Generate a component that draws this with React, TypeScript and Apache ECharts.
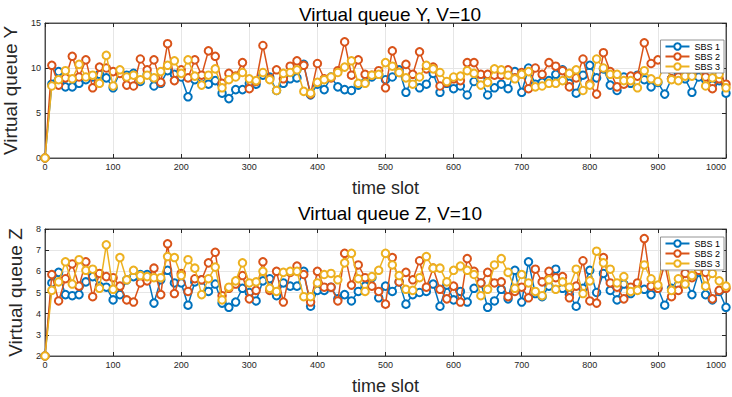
import React, { useEffect, useRef } from "react";
import * as echarts from "echarts";

const TIME_SLOTS: number[] = Array.from({ length: 101 }, (_, i) => i * 10);

const Y_SBS1 = [0, 8.2, 9.6, 7.9, 7.9, 8.3, 8.7, 9.0, 9.3, 8.9, 7.8, 9.5, 9.2, 9.4, 8.5, 9.3, 8.0, 8.3, 9.7, 9.3, 9.0, 6.8, 8.7, 8.9, 8.2, 8.6, 7.2, 6.6, 7.6, 7.6, 8.3, 8.2, 9.2, 9.0, 7.5, 8.3, 8.8, 8.9, 10.4, 7.0, 8.2, 7.6, 9.0, 7.9, 7.6, 7.5, 8.1, 8.4, 9.0, 9.3, 8.7, 9.0, 9.8, 7.3, 8.9, 7.8, 8.2, 9.4, 7.3, 8.3, 7.7, 8.0, 7.0, 8.5, 8.7, 7.0, 7.8, 8.2, 7.7, 9.6, 7.3, 10.0, 8.2, 8.4, 8.6, 9.3, 9.8, 8.3, 7.2, 9.2, 10.3, 8.9, 9.9, 8.1, 7.5, 9.0, 8.3, 9.2, 8.7, 7.9, 8.4, 7.1, 8.8, 9.5, 8.8, 7.3, 9.0, 8.7, 8.1, 8.6, 7.2];
const Y_SBS2 = [0, 10.3, 8.1, 8.9, 11.3, 9.0, 10.9, 7.8, 10.1, 10.0, 9.6, 9.4, 8.1, 8.0, 11.0, 9.8, 10.9, 8.4, 12.7, 8.6, 9.8, 8.9, 10.9, 9.2, 11.9, 11.3, 8.3, 9.4, 9.1, 10.6, 7.7, 8.5, 12.5, 8.8, 9.8, 8.8, 10.2, 10.8, 10.3, 7.1, 10.5, 8.8, 8.9, 9.7, 12.9, 9.2, 10.9, 9.3, 9.2, 9.7, 7.8, 11.9, 9.5, 10.4, 9.3, 11.8, 9.9, 10.1, 8.0, 8.4, 8.8, 8.6, 10.6, 10.6, 9.3, 9.3, 9.2, 9.2, 9.8, 8.9, 9.5, 7.7, 10.0, 9.3, 10.6, 10.2, 9.7, 7.9, 8.9, 11.0, 8.2, 7.1, 11.7, 9.6, 7.9, 8.2, 9.1, 9.1, 12.8, 10.5, 10.9, 10.9, 8.8, 9.0, 9.2, 9.4, 10.0, 9.0, 7.7, 8.8, 8.2];
const Y_SBS3 = [0, 8.0, 8.7, 9.7, 8.8, 10.4, 9.0, 9.2, 8.3, 11.4, 8.0, 9.8, 9.0, 9.2, 8.7, 9.2, 8.9, 9.6, 10.3, 10.8, 9.4, 10.9, 9.1, 8.1, 9.2, 9.9, 7.8, 8.7, 9.0, 9.5, 8.8, 8.6, 9.5, 8.7, 7.5, 9.4, 9.5, 9.8, 7.4, 7.2, 8.4, 8.7, 9.0, 9.5, 10.1, 10.8, 8.3, 8.3, 9.2, 9.3, 10.6, 10.2, 9.5, 8.9, 8.2, 9.0, 10.3, 9.9, 9.5, 8.5, 9.0, 9.1, 9.7, 9.4, 8.1, 8.4, 9.9, 9.8, 9.2, 8.8, 9.3, 9.6, 7.9, 8.0, 8.3, 8.3, 8.6, 9.4, 9.8, 7.5, 8.1, 11.0, 10.0, 9.3, 9.3, 8.6, 8.6, 7.8, 9.7, 8.8, 8.5, 10.5, 8.7, 8.6, 9.1, 9.1, 10.0, 8.0, 8.9, 9.3, 7.8];

const Z_SBS1 = [2, 5.45, 5.95, 4.9, 4.85, 4.9, 5.5, 5.75, 5.3, 5.25, 4.65, 4.9, 5.6, 5.75, 5.85, 5.85, 4.5, 5.6, 6.05, 5.45, 5.45, 4.4, 5.5, 5.6, 5.05, 5.4, 4.5, 4.3, 4.55, 5.2, 5.0, 4.6, 5.55, 5.65, 4.85, 5.45, 5.3, 5.3, 6.0, 4.35, 5.1, 5.1, 5.25, 4.7, 4.9, 4.6, 5.05, 5.3, 5.7, 4.75, 5.3, 5.05, 5.5, 4.45, 4.9, 5.0, 5.05, 5.4, 4.35, 5.35, 4.65, 5.05, 4.55, 5.2, 5.45, 4.3, 4.6, 5.15, 4.7, 6.05, 4.55, 6.45, 4.95, 4.8, 5.3, 6.1, 5.2, 4.9, 4.35, 5.2, 6.05, 5.0, 5.9, 5.1, 4.65, 5.4, 4.95, 5.2, 5.15, 4.9, 5.2, 4.4, 5.2, 5.35, 5.65, 4.9, 5.95, 4.9, 4.65, 5.05, 4.3];
const Z_SBS2 = [2, 5.85, 4.6, 5.65, 6.35, 5.3, 6.45, 4.8, 5.9, 5.75, 5.7, 5.3, 4.65, 4.55, 5.45, 5.55, 6.15, 4.9, 7.3, 4.95, 5.9, 5.05, 5.65, 5.6, 6.4, 6.9, 4.85, 5.2, 5.4, 5.8, 4.7, 5.1, 6.45, 5.1, 6.0, 4.55, 5.95, 6.25, 5.85, 4.55, 6.0, 5.25, 5.25, 4.6, 6.85, 5.35, 6.3, 5.7, 5.3, 5.05, 4.45, 6.65, 5.5, 5.95, 5.6, 6.5, 5.25, 6.15, 5.15, 4.7, 5.3, 4.55, 6.6, 6.0, 5.45, 5.95, 5.45, 5.5, 4.8, 5.05, 5.25, 4.75, 6.1, 5.5, 6.0, 5.7, 5.75, 4.75, 5.3, 6.5, 4.6, 4.5, 6.65, 5.45, 5.25, 4.7, 5.25, 5.45, 7.55, 5.3, 5.2, 6.35, 4.8, 5.1, 5.9, 5.7, 6.05, 5.95, 4.7, 5.1, 5.2];
const Z_SBS3 = [2, 5.1, 5.5, 6.45, 5.4, 6.55, 6.05, 6.1, 5.2, 7.25, 5.15, 6.65, 5.6, 6.05, 5.8, 5.75, 5.7, 5.7, 6.7, 6.65, 5.8, 6.55, 6.15, 4.9, 5.65, 6.2, 4.65, 5.25, 5.55, 6.4, 5.45, 5.5, 6.0, 5.2, 5.05, 5.95, 6.0, 6.0, 4.8, 4.8, 5.45, 5.85, 5.9, 5.6, 6.4, 6.85, 5.65, 5.05, 5.75, 6.05, 6.85, 6.3, 5.8, 5.15, 5.1, 5.7, 6.7, 6.15, 6.15, 5.5, 6.05, 6.25, 6.05, 5.85, 4.85, 5.15, 6.3, 6.6, 5.95, 5.2, 5.85, 5.45, 5.05, 4.85, 5.6, 5.15, 5.5, 5.25, 6.1, 4.95, 5.55, 6.95, 6.4, 6.1, 5.45, 5.75, 5.05, 5.1, 6.3, 5.65, 5.35, 6.9, 5.1, 5.65, 5.4, 5.8, 6.25, 5.3, 5.9, 5.55, 5.3];

const SERIES_NAMES = ["SBS 1", "SBS 2", "SBS 3"];
const COLORS = ["#0072BD", "#D95319", "#EDB120"];
const FONT = "Liberation Sans, Arial, Helvetica, sans-serif";

export default function App() {
  const ref = useRef<HTMLDivElement>(null);
  useEffect(() => {
    document.body.style.margin = "0";
    if (!ref.current) return;
    const chart = echarts.init(ref.current, undefined, { renderer: "svg" });
    const pair = (vals: number[]) => TIME_SLOTS.map((t, i) => [t, vals[i]]);
    const mkX = (gridIndex: number, pos: "bottom" | "top") => ({
      type: "value",
      gridIndex,
      position: pos,
      min: 0,
      max: 1000,
      interval: 100,
      name: pos === "bottom" ? "time slot" : "",
      nameLocation: "middle",
      nameGap: 21,
      nameTextStyle: { fontSize: 18, color: "#262626", fontFamily: FONT },
      axisLine: { show: true, onZero: false, lineStyle: { color: "#262626", width: 0.8 } },
      axisTick: { show: true, inside: true, length: 4, lineStyle: { color: "#262626" } },
      axisLabel: {
        show: pos === "bottom",
        fontSize: 9,
        color: "#262626",
        fontFamily: FONT,
        margin: 4,
        alignMaxLabel: "right",
        formatter: (v: number) => String(v),
      },
      splitLine: { show: pos === "bottom", lineStyle: { color: "#e6e6e6", width: 1 } },
    });
    const mkY = (gridIndex: number, pos: "left" | "right", min: number, max: number, interval: number, name: string) => ({
      type: "value",
      gridIndex,
      position: pos,
      min,
      max,
      interval,
      name: pos === "left" ? name : "",
      nameLocation: "middle",
      nameGap: 18,
      nameRotate: 90,
      nameTextStyle: { fontSize: 19, color: "#262626", fontFamily: FONT },
      axisLine: { show: true, onZero: false, lineStyle: { color: "#262626", width: 0.8 } },
      axisTick: { show: true, inside: true, length: 4, lineStyle: { color: "#262626" } },
      axisLabel: {
        show: pos === "left",
        fontSize: 9,
        color: "#262626",
        fontFamily: FONT,
        margin: 4,
      },
      splitLine: { show: pos === "left", lineStyle: { color: "#e6e6e6", width: 1 } },
    });
    const mkSeries = (vals: number[], idx: number, grid: number) => ({
      type: "line",
      name: SERIES_NAMES[idx],
      xAxisIndex: grid * 2,
      yAxisIndex: grid * 2,
      data: pair(vals),
      symbol: "emptyCircle",
      symbolSize: 7.5,
      showSymbol: true,
      lineStyle: { color: COLORS[idx], width: 1.5 },
      itemStyle: { color: COLORS[idx], borderColor: COLORS[idx], borderWidth: 1.3 },
      z: 2 + idx,
    });
    const legendBase = {
      orient: "vertical",
      right: 8,
      backgroundColor: "#ffffff",
      borderColor: "#7a7a7a",
      borderWidth: 0.8,
      borderRadius: 0,
      padding: [2, 4, 2, 4],
      itemGap: 1,
      itemWidth: 24,
      itemHeight: 8,
      textStyle: { fontSize: 9, color: "#000", fontFamily: FONT },
      data: SERIES_NAMES,
      z: 10,
    };
    const gridBase = {
      left: 45,
      right: 6,
      show: true,
      borderColor: "#262626",
      borderWidth: 0.8,
      backgroundColor: "#fff",
      containLabel: false,
      outerBoundsMode: "none",
    };
    chart.setOption({
      animation: false,
      backgroundColor: "#ffffff",
      title: [
        {
          text: "Virtual queue Y, V=10",
          left: 385,
          textAlign: "center",
          top: 0,
          textStyle: { fontSize: 19, fontWeight: "normal", color: "#000", fontFamily: FONT },
        },
        {
          text: "Virtual queue Z, V=10",
          left: 385,
          textAlign: "center",
          top: 199,
          textStyle: { fontSize: 19, fontWeight: "normal", color: "#000", fontFamily: FONT },
        },
      ],
      legend: [
        { ...legendBase, top: 40 },
        { ...legendBase, top: 237 },
      ],
      grid: [
        { ...gridBase, top: 23, height: 135 },
        { ...gridBase, top: 229, height: 127 },
      ],
      xAxis: [mkX(0, "bottom"), mkX(0, "top"), mkX(1, "bottom"), mkX(1, "top")],
      yAxis: [
        mkY(0, "left", 0, 15, 5, "Virtual queue Y"),
        mkY(0, "right", 0, 15, 5, ""),
        mkY(1, "left", 2, 8, 1, "Virtual queue Z"),
        mkY(1, "right", 2, 8, 1, ""),
      ],
      series: [
        mkSeries(Y_SBS1, 0, 0),
        mkSeries(Y_SBS2, 1, 0),
        mkSeries(Y_SBS3, 2, 0),
        mkSeries(Z_SBS1, 0, 1),
        mkSeries(Z_SBS2, 1, 1),
        mkSeries(Z_SBS3, 2, 1),
      ],
    });
    return () => chart.dispose();
  }, []);
  return <div ref={ref} style={{ width: 732, height: 397 }} />;
}
